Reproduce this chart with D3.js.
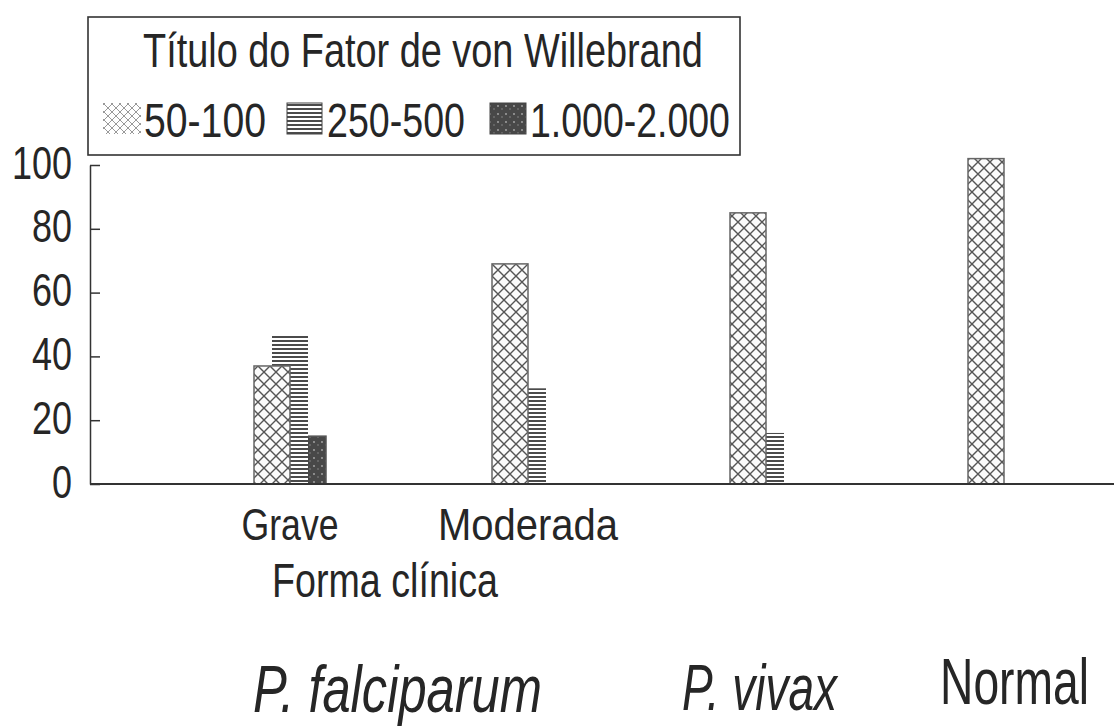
<!DOCTYPE html>
<html>
<head>
<meta charset="utf-8">
<script src="https://cdnjs.cloudflare.com/ajax/libs/d3/7.8.5/d3.min.js"></script>
<style>
  body { margin: 0; background: #fff; }
  text { font-family: "Liberation Sans", Arial, sans-serif; fill: #262626; }
</style>
</head>
<body>
<svg id="chart" width="1114" height="727"></svg>
<script>
// data
const groups = ["grave", "moderada", "vivax", "normal"];
const groupLabels = ["Grave", "Moderada", "", ""];
const series = ["50-100", "250-500", "1.000-2.000"];
const values50 = [37, 69, 85, 102];
const values250 = [47, 30, 16, 0];
const values1000 = [15, 0, 0, 0];
const yTicks = [0, 20, 40, 60, 80, 100];
const legendTitle = "Título do Fator de von Willebrand";
const axisTitle = "Forma clínica";
const speciesLabels = ["P. falciparum", "P. vivax", "Normal"];

const seriesValues = [values50, values250, values1000];

const svg = d3.select("#chart");
const margin = { left: 90, right: 1114, top: 165, bottom: 484 };

// squeeze a text horizontally to a given width (the original uses a condensed face)
function squeeze(sel, len, x0) {
  sel.each(function () {
    const t = d3.select(this);
    const w = this.getComputedTextLength();
    if (!w || !len) return;
    const k = len / w;
    const x = x0 === undefined ? 0 : x0;
    t.attr("x", x / k).attr("transform", "scale(" + k + ",1)");
  });
}

function addText(g, str, o) {
  const grp = g.append("g").attr("transform", "translate(" + o.x + "," + o.y + ")");
  const t = grp.append("text")
    .attr("text-anchor", o.anchor || "start")
    .attr("font-size", o.size)
    .attr("font-style", o.italic ? "italic" : "normal")
    .text(str);
  squeeze(t, o.len);
  return t;
}

// Patterns
const defs = svg.append("defs");

const cross = defs.append("pattern")
  .attr("id", "pat-cross")
  .attr("patternUnits", "userSpaceOnUse")
  .attr("width", 12).attr("height", 12);
cross.append("rect").attr("width", 12).attr("height", 12).attr("fill", "#fbfbfb");
cross.append("path").attr("d", "M0,0L12,12M12,0L0,12")
  .attr("stroke", "#555").attr("stroke-width", 1.4);

const crossSmall = defs.append("pattern")
  .attr("id", "pat-cross-small")
  .attr("patternUnits", "userSpaceOnUse")
  .attr("width", 8).attr("height", 8);
crossSmall.append("rect").attr("width", 8).attr("height", 8).attr("fill", "#fff");
crossSmall.append("path").attr("d", "M0,0L8,8M8,0L0,8")
  .attr("stroke", "#999").attr("stroke-width", 1);

const stripes = defs.append("pattern")
  .attr("id", "pat-stripes")
  .attr("patternUnits", "userSpaceOnUse")
  .attr("width", 8).attr("height", 4);
stripes.append("rect").attr("width", 8).attr("height", 4).attr("fill", "#fff");
stripes.append("path").attr("d", "M0,1L8,1")
  .attr("stroke", "#2a2a2a").attr("stroke-width", 1.7);

const dots = defs.append("pattern")
  .attr("id", "pat-dots")
  .attr("patternUnits", "userSpaceOnUse")
  .attr("width", 8).attr("height", 8);
dots.append("rect").attr("width", 8).attr("height", 8).attr("fill", "#484848");
dots.append("circle").attr("cx", 2).attr("cy", 2).attr("r", 0.9).attr("fill", "#aaa");
dots.append("circle").attr("cx", 6).attr("cy", 5).attr("r", 0.8).attr("fill", "#888");

const fills = { "50-100": "url(#pat-cross)", "250-500": "url(#pat-stripes)", "1.000-2.000": "url(#pat-dots)" };
const strokes = { "50-100": "#666", "250-500": "none", "1.000-2.000": "#555" };

// Scales
const barW = 36;
const x = d3.scaleBand()
  .domain(groups)
  .range([254, 1040])
  .paddingInner(0.6975)
  .paddingOuter(0)
  .align(0);

// bars overlap by half: offsets 0, 18, 36
const xs = d3.scalePoint()
  .domain(series)
  .range([0, barW]);

const y = d3.scaleLinear()
  .domain([0, 100])
  .range([margin.bottom, margin.top]);

// Bars: later series drawn first so the first series sits on top
const barData = [];
series.slice().reverse().forEach(s => {
  const vals = seriesValues[series.indexOf(s)];
  groups.forEach((g, i) => {
    if (vals[i] > 0) barData.push({ group: g, series: s, value: vals[i] });
  });
});

svg.append("g").selectAll("rect")
  .data(barData)
  .enter()
  .append("rect")
  .attr("x", d => x(d.group) + xs(d.series))
  .attr("y", d => y(d.value))
  .attr("width", barW)
  .attr("height", d => y(0) - y(d.value))
  .attr("fill", d => fills[d.series])
  .attr("stroke", d => strokes[d.series])
  .attr("stroke-width", 1.5);

// Y axis, ticks pointing inward
const yAxis = svg.append("g")
  .attr("transform", "translate(" + margin.left + ",0)")
  .call(d3.axisLeft(y).tickValues(yTicks).tickSize(-10).tickSizeOuter(0).tickPadding(18));
yAxis.attr("font-family", null).attr("font-size", null);
yAxis.select(".domain").attr("stroke", "#333").attr("stroke-width", 1.5);
yAxis.selectAll(".tick line").attr("stroke", "#333").attr("stroke-width", 1.5);
yAxis.selectAll(".tick text")
  .attr("font-size", 47)
  .attr("fill", "#262626")
  .attr("dy", 13)
  .each(function (d) { squeeze(d3.select(this), String(d).length * 20, -18); });

// X axis baseline
svg.append("line")
  .attr("x1", margin.left).attr("x2", margin.right)
  .attr("y1", y(0)).attr("y2", y(0))
  .attr("stroke", "#333").attr("stroke-width", 2);

// Group labels
const groupLen = [97, 180, 0, 0];
const xAxis = svg.append("g")
  .attr("transform", "translate(0,540)")
  .call(d3.axisBottom(x).tickSize(0).tickPadding(0).tickFormat((d, i) => groupLabels[i]));
xAxis.attr("font-family", null).attr("font-size", null);
xAxis.select(".domain").remove();
xAxis.selectAll(".tick text")
  .attr("y", 0).attr("dy", 0)
  .attr("font-size", 45)
  .attr("fill", "#262626")
  .each(function (d, i) { squeeze(d3.select(this), groupLen[i]); });

addText(svg, axisTitle, { x: 272, y: 597, size: 49, len: 226 });

// Species labels
addText(svg, speciesLabels[0], { x: 253, y: 712, size: 66, len: 289, italic: true });
addText(svg, speciesLabels[1], { x: 682, y: 710, size: 64, len: 155, italic: true });
addText(svg, speciesLabels[2], { x: 940, y: 704, size: 64, len: 149 });

// Legend
const legend = svg.append("g");
legend.append("rect")
  .attr("x", 88).attr("y", 17)
  .attr("width", 652).attr("height", 138)
  .attr("fill", "#fff")
  .attr("stroke", "#333").attr("stroke-width", 1.6);

addText(legend, legendTitle, { x: 143, y: 67, size: 48, len: 560 });

const legendSwatch = [
  { x: 103, w: 38, fill: "url(#pat-cross-small)", stroke: "none" },
  { x: 287, w: 35, fill: "url(#pat-stripes)", stroke: "#444" },
  { x: 490, w: 36, fill: "url(#pat-dots)", stroke: "#444" }
];
const legendText = [
  { x: 144, len: 122 },
  { x: 327, len: 138 },
  { x: 530, len: 200 }
];
series.forEach((s, i) => {
  legend.append("rect")
    .attr("x", legendSwatch[i].x).attr("y", 103)
    .attr("width", legendSwatch[i].w).attr("height", 31)
    .attr("fill", legendSwatch[i].fill)
    .attr("stroke", legendSwatch[i].stroke);
  addText(legend, s, { x: legendText[i].x, y: 137, size: 48, len: legendText[i].len });
});
</script>
</body>
</html>
